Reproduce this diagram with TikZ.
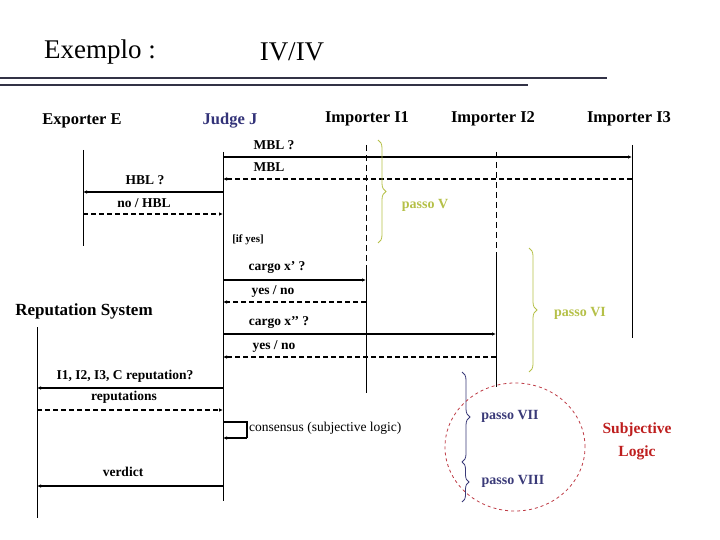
\documentclass[tikz,border=0pt]{standalone}
\usepackage{fontspec}
\setmainfont{Liberation Serif}
\usetikzlibrary{arrows.meta,decorations.pathreplacing,shapes.geometric}
\definecolor{ygreen}{RGB}{181,192,72}
\definecolor{dblue}{RGB}{58,58,120}
\definecolor{jblue}{RGB}{50,50,120}
\definecolor{cred}{RGB}{190,60,70}
\definecolor{tred}{RGB}{190,30,30}
\definecolor{rule}{RGB}{50,50,70}
\tikzset{
  hdr/.style={font=\fontsize{16.5}{18}\selectfont\bfseries, inner sep=0pt},
  lbl/.style={font=\fontsize{13.5}{15}\selectfont\bfseries, inner sep=0pt},
  life/.style={line width=0.9pt},
  lifedash/.style={line width=0.9pt, dash pattern=on 6pt off 4pt},
  msg/.style={line width=1.7pt, -{Latex[length=4pt,width=3.5pt]}},
  reply/.style={msg, dash pattern=on 5pt off 3pt},
  bracestyle/.style={decorate, decoration={brace, amplitude=8pt}, line width=0.8pt},
}
\begin{document}
\begin{tikzpicture}[x=1pt,y=-1pt]
\useasboundingbox (0,0) rectangle (720,540);
% title
\node[font=\fontsize{27}{30}\selectfont, inner sep=0pt] (title) at (100,52) {Exemplo :};
\node[font=\fontsize{27}{30}\selectfont, inner sep=0pt] (num) at (292,52) {IV/IV};
\coordinate (r1a) at (0,78); \coordinate (r1b) at (607,78);
\coordinate (r2a) at (0,85); \coordinate (r2b) at (528,85);
\draw[rule, line width=1.1pt] (r1a) -- (r1b);
\draw[rule, line width=1.1pt] (r2a) -- (r2b);
% headers
\node[hdr] (hE) at (82,121) {Exporter E};
\node[hdr, text=jblue] (hJ) at (230,121) {Judge J};
\node[hdr] (hI1) at (367,119) {Importer I1};
\node[hdr] (hI2) at (493,119) {Importer I2};
\node[hdr] (hI3) at (629,119) {Importer I3};
\node[font=\fontsize{17}{19}\selectfont\bfseries, inner sep=0pt] (hR) at (84,311) {Reputation System};
% lifelines
\coordinate (Et) at (83,150); \coordinate (Eb) at (83,246);
\coordinate (Jt) at (223,152); \coordinate (Jb) at (223,501);
\coordinate (I1t) at (366,145); \coordinate (I1m) at (366,268); \coordinate (I1b) at (366,393);
\coordinate (I2t) at (496,152); \coordinate (I2m) at (496,258); \coordinate (I2b) at (496,387);
\coordinate (I3t) at (632,145); \coordinate (I3b) at (632,338);
\coordinate (Rt) at (37,327); \coordinate (Rb) at (37,518);
\draw[life] (Et) -- (Eb);
\draw[life] (Jt) -- (Jb);
\draw[lifedash] (I1t) -- (I1m); \draw[life] (I1m) -- (I1b);
\draw[lifedash] (I2t) -- (I2m); \draw[life] (I2m) -- (I2b);
\draw[life] (I3t) -- (I3b);
\draw[life] (Rt) -- (Rb);
% message end points
\coordinate (m1a) at (223,157); \coordinate (m1b) at (632,157);
\coordinate (m2a) at (632,179); \coordinate (m2b) at (223,179);
\coordinate (m3a) at (223,192); \coordinate (m3b) at (83,192);
\coordinate (m4a) at (83,214); \coordinate (m4b) at (223,214);
\coordinate (m5a) at (223,280); \coordinate (m5b) at (366,280);
\coordinate (m6a) at (366,302); \coordinate (m6b) at (223,302);
\coordinate (m7a) at (223,334); \coordinate (m7b) at (496,334);
\coordinate (m8a) at (496,357); \coordinate (m8b) at (223,357);
\coordinate (m9a) at (223,388); \coordinate (m9b) at (37,388);
\coordinate (m10a) at (37,410); \coordinate (m10b) at (223,410);
\coordinate (c1) at (223,422); \coordinate (c2) at (247,422); \coordinate (c3) at (247,438); \coordinate (c4) at (223,438);
\coordinate (m11a) at (223,486); \coordinate (m11b) at (37,486);
% messages
\draw[msg] (m1a) -- (m1b);
\draw[reply] (m2a) -- (m2b);
\draw[msg] (m3a) -- (m3b);
\draw[reply] (m4a) -- (m4b);
\draw[msg] (m5a) -- (m5b);
\draw[reply] (m6a) -- (m6b);
\draw[msg] (m7a) -- (m7b);
\draw[reply] (m8a) -- (m8b);
\draw[msg] (m9a) -- (m9b);
\draw[reply] (m10a) -- (m10b);
\draw[line width=1.1pt] (c1) -- (c2) -- (c3);
\draw[msg] (c3) -- (c4);
\draw[msg] (m11a) -- (m11b);
% labels
\node[lbl] (l1) at (274,145) {MBL ?};
\node[lbl] (l2) at (269,167) {MBL};
\node[lbl] (l3) at (145,180) {HBL ?};
\node[lbl] (l4) at (144,203) {no / HBL};
\node[font=\fontsize{11}{13}\selectfont\bfseries, inner sep=0pt] (l5) at (248,240) {[if yes]};
\node[lbl] (l6) at (277,268) {cargo x’ ?};
\node[lbl] (l7) at (273,292) {yes / no};
\node[lbl] (l8) at (279,322) {cargo x’’ ?};
\node[lbl] (l9) at (274,347) {yes / no};
\node[lbl] (l10) at (125,376) {I1, I2, I3, C reputation?};
\node[lbl] (l11) at (124,397) {reputations};
\node[font=\fontsize{13.5}{15}\selectfont, inner sep=0pt, anchor=west] (l12) at (249,428) {consensus (subjective logic)};
\node[lbl] (l13) at (123,472) {verdict};
% braces
\coordinate (b5a) at (378,140); \coordinate (b5b) at (378,243);
\coordinate (b6a) at (529,248); \coordinate (b6b) at (529,372);
\coordinate (b7a) at (462,372); \coordinate (b7b) at (462,462);
\coordinate (b8a) at (462,462); \coordinate (b8b) at (462,502);
\draw[bracestyle, ygreen] (b5a) -- (b5b);
\draw[bracestyle, ygreen] (b6a) -- (b6b);
\draw[bracestyle, dblue] (b7a) -- (b7b);
\draw[bracestyle, dblue, decoration={brace, amplitude=7pt}] (b8a) -- (b8b);
\node[font=\fontsize{14}{16}\selectfont\bfseries, text=ygreen, inner sep=0pt] (p5) at (425,205) {passo V};
\node[font=\fontsize{14}{16}\selectfont\bfseries, text=ygreen, inner sep=0pt] (p6) at (580,313) {passo VI};
\node[font=\fontsize{14}{16}\selectfont\bfseries, text=dblue, inner sep=0pt] (p7) at (510,416) {passo VII};
\node[font=\fontsize{14}{16}\selectfont\bfseries, text=dblue, inner sep=0pt] (p8) at (513,481) {passo VIII};
% subjective logic circle
\node[draw=cred, dashed, line width=0.8pt, ellipse, minimum width=140pt, minimum height=128pt, inner sep=0pt] (circ) at (515,447) {};
\node[font=\fontsize{15.5}{23}\selectfont\bfseries, text=tred, align=center, inner sep=0pt] (sl) at (637,441) {Subjective\\Logic};
\end{tikzpicture}
\end{document}
